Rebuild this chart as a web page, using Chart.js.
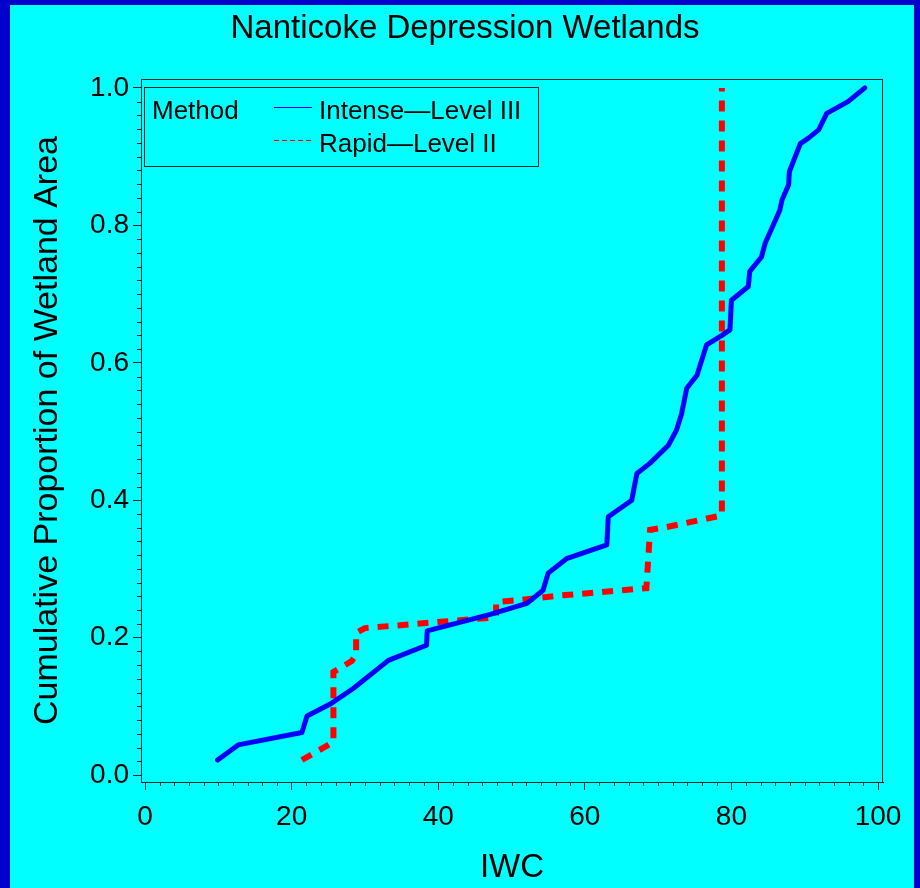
<!DOCTYPE html>
<html lang="en">
<head>
  <meta charset="UTF-8">
  <title>Nanticoke Depression Wetlands</title>
  <script src="https://cdn.jsdelivr.net/npm/chart.js"></script>
  <style>
    body {
      margin: 0;
      background: #0000cc;
    }
    #wrap {
      position: absolute;
      left: 10px;
      top: 5px;
      width: 904px;
      height: 883px;
      background: #00ffff;
    }
  </style>
</head>
<body>
  <div id="wrap">
    <canvas id="cdfChart" width="904" height="883"></canvas>
  </div>

  <script>
    // Intense - Level III (IWC vs cumulative proportion)
    const intenseX = [9.9, 12.7, 21.4, 22.1, 25.2, 28.4, 33.2, 38.4, 38.5, 47.1,
                      52.1, 54.3, 55.0, 57.5, 63.0, 63.2, 66.4, 67.1, 68.9, 71.4,
                      72.5, 73.2, 73.9, 75.3, 76.6, 78.7, 79.8, 80.0, 82.3, 82.5,
                      84.1, 84.6, 86.6, 86.9, 87.8, 87.9, 89.4, 90.5, 91.9, 93.0,
                      95.9, 98.2];
    const intenseY = [0.022, 0.044, 0.062, 0.086, 0.103, 0.126, 0.167, 0.189, 0.210, 0.234,
                      0.250, 0.269, 0.294, 0.315, 0.335, 0.376, 0.400, 0.439, 0.454, 0.480,
                      0.502, 0.526, 0.563, 0.582, 0.626, 0.640, 0.648, 0.691, 0.711, 0.733,
                      0.754, 0.774, 0.822, 0.837, 0.859, 0.878, 0.919, 0.927, 0.939, 0.963,
                      0.980, 1.0];

    // Rapid - Level II
    const rapidX = [21.4, 25.7, 25.7, 28.2, 28.8, 28.8, 30.0, 47.1, 47.9, 47.9,
                    51.2, 56.2, 68.4, 68.9, 71.2, 78.7, 78.7];
    const rapidY = [0.022, 0.048, 0.150, 0.166, 0.175, 0.207, 0.214, 0.229, 0.231, 0.252,
                    0.255, 0.261, 0.272, 0.357, 0.361, 0.378, 1.0];

    const xTicks = [0, 20, 40, 60, 80, 100];
    const yTicks = [0.0, 0.2, 0.4, 0.6, 0.8, 1.0];
    const seriesNames = ['Intense\u2014Level III', 'Rapid\u2014Level II'];
    const chartTitle = 'Nanticoke Depression Wetlands';

    const FONT = "'Liberation Sans', Arial, Helvetica, sans-serif";

    function toPoints(xs, ys) {
      return xs.map((x, i) => ({ x: x, y: ys[i] }));
    }

    // title, frame, minor ticks and the boxed legend
    const decorPlugin = {
      id: 'decor',
      afterDraw(chart) {
        const ctx = chart.ctx;
        const area = chart.chartArea;
        const xs = chart.scales.x;
        const ys = chart.scales.y;
        ctx.save();

        ctx.fillStyle = '#000000';
        ctx.font = '33px ' + FONT;
        ctx.textAlign = 'center';
        ctx.textBaseline = 'middle';
        ctx.fillText(chartTitle, 455, 24);

        ctx.strokeStyle = '#0a2a2a';
        ctx.lineWidth = 1;
        ctx.strokeRect(area.left + 0.5, area.top + 0.5, area.right - area.left - 1, area.bottom - area.top);

        // minor ticks
        ctx.beginPath();
        for (let v = 0; v <= 100; v += 2) {
          if (v % 20 === 0) continue;
          const px = Math.round(xs.getPixelForValue(v)) + 0.5;
          ctx.moveTo(px, area.bottom);
          ctx.lineTo(px, area.bottom + 4);
        }
        for (let k = 0; k <= 50; k++) {
          if (k % 10 === 0) continue;
          const py = Math.round(ys.getPixelForValue(k * 0.02)) + 0.5;
          ctx.moveTo(area.left, py);
          ctx.lineTo(area.left - 4, py);
        }
        ctx.stroke();

        // legend
        const lx = area.left + 3;
        const ly = area.top + 8;
        ctx.strokeRect(lx + 0.5, ly + 0.5, 394, 79);
        ctx.font = '26px ' + FONT;
        ctx.textAlign = 'left';
        ctx.fillText('Method', lx + 8, ly + 25);
        const rows = [ly + 25, ly + 58];
        chart.data.datasets.forEach((ds, i) => {
          ctx.save();
          ctx.strokeStyle = ds.borderColor;
          ctx.lineWidth = 1;
          ctx.setLineDash(i === 1 ? [5, 3] : []);
          ctx.beginPath();
          ctx.moveTo(lx + 130, rows[i] - 4.5);
          ctx.lineTo(lx + 168, rows[i] - 4.5);
          ctx.stroke();
          ctx.restore();
          ctx.fillText(ds.label, lx + 175, rows[i]);
        });
        ctx.restore();
      }
    };

    const cdfChart = new Chart(document.getElementById('cdfChart').getContext('2d'), {
      type: 'scatter',
      data: {
        datasets: [{
          label: seriesNames[0],
          data: toPoints(intenseX, intenseY),
          showLine: true,
          borderColor: '#0000ff',
          borderWidth: 5,
          borderJoinStyle: 'round',
          borderCapStyle: 'round',
          pointRadius: 0,
          tension: 0
        }, {
          label: seriesNames[1],
          data: toPoints(rapidX, rapidY),
          showLine: true,
          borderColor: '#ff0000',
          borderWidth: 6,
          borderDash: [11, 9],
          borderCapStyle: 'butt',
          pointRadius: 0,
          tension: 0
        }]
      },
      options: {
        responsive: false,
        animation: false,
        layout: { padding: { top: 74, right: 31, left: 0, bottom: 0 } },
        plugins: {
          legend: { display: false },
          tooltip: { enabled: false },
          title: { display: false }
        },
        scales: {
          x: {
            type: 'linear',
            min: -0.55,
            max: 100.68,
            afterBuildTicks: s => { s.ticks = xTicks.map(v => ({ value: v })); },
            afterFit: s => { s.height = 106; },
            grid: { drawOnChartArea: false, tickLength: 8, color: '#0a2a2a' },
            border: { color: '#0a2a2a', width: 1 },
            ticks: {
              color: '#000000',
              padding: 10,
              maxRotation: 0,
              font: { family: FONT, size: 28 },
              callback: v => String(v)
            },
            title: {
              display: true,
              text: 'IWC',
              color: '#000000',
              font: { family: FONT, size: 33 },
              padding: 0
            }
          },
          y: {
            type: 'linear',
            min: -0.01,
            max: 1.013,
            afterBuildTicks: s => { s.ticks = yTicks.map(v => ({ value: v })); },
            afterFit: s => { s.width = 131; },
            grid: { drawOnChartArea: false, tickLength: 8, color: '#0a2a2a' },
            border: { color: '#0a2a2a', width: 1 },
            ticks: {
              color: '#000000',
              padding: 4,
              font: { family: FONT, size: 28 },
              callback: v => v.toFixed(1)
            },
            title: {
              display: true,
              text: 'Cumulative Proportion of Wetland Area',
              color: '#000000',
              font: { family: FONT, size: 34 },
              padding: { top: 17, bottom: 0 }
            }
          }
        }
      },
      plugins: [decorPlugin]
    });
  </script>
</body>
</html>
